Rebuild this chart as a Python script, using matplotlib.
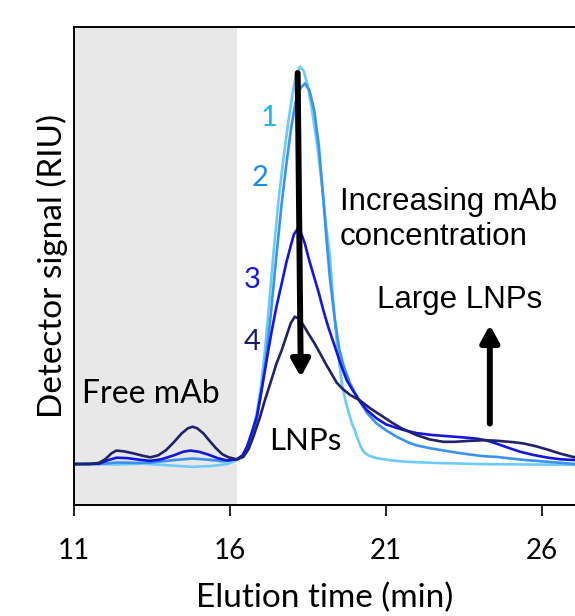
import numpy as np
import matplotlib
matplotlib.use("Agg")
import matplotlib.pyplot as plt

plt.rcParams['font.family'] = ['Lato', 'DejaVu Sans']

# elution time (min) / detector signal (normalised RIU)
t1 = [11.0, 11.8, 12.4, 13.2, 14.0, 14.8, 15.4, 15.9, 16.22, 16.4, 16.55, 16.7, 16.85, 17.0,
      17.12, 17.25, 17.39, 17.55, 17.7, 17.85, 18.0, 18.12, 18.24, 18.36, 18.5, 18.65, 18.8,
      18.95, 19.08, 19.2, 19.3, 19.42, 19.58, 19.7, 19.82, 19.92, 20.0, 20.1, 20.2, 20.3,
      20.45, 20.7, 21.1, 21.6, 22.5, 24.0, 25.5, 27.1]
v1 = [0.0, 0.0, -0.001, 0.001, -0.003, -0.007, -0.005, 0.0, 0.01, 0.02, 0.04, 0.075, 0.125, 0.2,
      0.287, 0.4, 0.526, 0.66, 0.76, 0.85, 0.93, 0.98, 1.0, 0.99, 0.95, 0.88, 0.8,
      0.7, 0.6, 0.526, 0.42, 0.31, 0.205, 0.16, 0.125, 0.1, 0.085, 0.062, 0.042, 0.03,
      0.021, 0.015, 0.01, 0.006, 0.003, 0.0, -0.001, -0.002]

t2 = [11.0, 11.8, 12.4, 13.0, 13.5, 14.2, 14.8, 15.3, 15.8, 16.22, 16.4, 16.55, 16.7, 16.85,
      17.0, 17.15, 17.3, 17.49, 17.65, 17.8, 17.95, 18.1, 18.25, 18.4, 18.55, 18.7, 18.85,
      19.0, 19.1, 19.2, 19.35, 19.5, 19.65, 19.85, 20.0, 20.17, 20.4, 20.7, 21.0, 21.34,
      21.7, 21.98, 22.41, 23.0, 23.6, 24.1, 24.55, 25.0, 25.5, 26.3, 27.1]
v2 = [0.0, 0.0, 0.004, 0.003, 0.004, 0.01, 0.014, 0.011, 0.007, 0.012, 0.02, 0.038, 0.068, 0.11,
      0.18, 0.265, 0.37, 0.526, 0.65, 0.75, 0.84, 0.91, 0.945, 0.958, 0.94, 0.89, 0.8,
      0.66, 0.56, 0.47, 0.37, 0.29, 0.245, 0.203, 0.18, 0.157, 0.128, 0.102, 0.085, 0.069,
      0.055, 0.047, 0.04, 0.032, 0.025, 0.02, 0.018, 0.014, 0.01, 0.005, 0.0]

t3 = [11.0, 11.8, 12.1, 12.36, 12.7, 13.1, 13.45, 13.8, 14.2, 14.5, 14.73, 15.0, 15.3, 15.6,
      15.9, 16.22, 16.4, 16.55, 16.7, 16.86, 17.0, 17.12, 17.23, 17.35, 17.5, 17.66, 17.8,
      17.95, 18.05, 18.16, 18.27, 18.4, 18.55, 18.7, 18.85, 19.0, 19.15, 19.3, 19.45, 19.6,
      19.75, 19.9, 20.17, 20.4, 20.7, 21.0, 21.3, 21.6, 21.98, 22.5, 23.0, 23.5, 23.9, 24.2,
      24.45, 24.7, 25.0, 25.3, 25.72, 26.2, 26.6, 27.1]
v3 = [0.0, 0.001, 0.01, 0.016, 0.015, 0.011, 0.008, 0.012, 0.022, 0.031, 0.034, 0.031, 0.024, 0.015,
      0.009, 0.012, 0.022, 0.045, 0.08, 0.119, 0.18, 0.235, 0.287, 0.34, 0.4, 0.455, 0.505,
      0.55, 0.578, 0.591, 0.583, 0.555, 0.51, 0.47, 0.43, 0.385, 0.345, 0.31, 0.275, 0.24,
      0.21, 0.19, 0.157, 0.135, 0.115, 0.1, 0.092, 0.085, 0.078, 0.073, 0.07, 0.067, 0.064, 0.06,
      0.054, 0.047, 0.039, 0.031, 0.023, 0.016, 0.012, 0.01]

t4 = [11.0, 11.5, 11.8, 12.0, 12.2, 12.36, 12.6, 12.9, 13.2, 13.45, 13.7, 13.95, 14.2, 14.45,
      14.65, 14.8, 14.95, 15.15, 15.35, 15.55, 15.75, 15.95, 16.22, 16.43, 16.6, 16.75, 16.95,
      17.12, 17.3, 17.5, 17.66, 17.8, 17.95, 18.08, 18.2, 18.35, 18.5, 18.7, 18.88, 19.05,
      19.25, 19.42, 19.6, 19.85, 20.17, 20.5, 20.91, 21.2, 21.5, 21.98, 22.4, 22.84, 23.2,
      23.6, 24.12, 24.5, 24.8, 25.1, 25.4, 25.8, 26.2, 26.6, 27.1]
v4 = [0.0, 0.0, 0.003, 0.012, 0.027, 0.034, 0.032, 0.027, 0.021, 0.017, 0.022, 0.035, 0.055, 0.077,
      0.09, 0.094, 0.09, 0.077, 0.058, 0.04, 0.025, 0.017, 0.012, 0.018, 0.038, 0.069, 0.115,
      0.161, 0.205, 0.255, 0.287, 0.32, 0.355, 0.371, 0.366, 0.35, 0.33, 0.305, 0.28, 0.255,
      0.228, 0.205, 0.19, 0.174, 0.16, 0.14, 0.119, 0.104, 0.09, 0.073, 0.062, 0.056, 0.056,
      0.058, 0.06, 0.059, 0.057, 0.055, 0.052, 0.045, 0.036, 0.026, 0.016]

colors = ['#6CCBF7', '#3A92EC', '#1515E0', '#222266']
label_colors = ['#1CB5F0', '#1E8BEF', '#1515E0', '#1B1B6E']
run_labels = ['1', '2', '3', '4']
label_pos = [(17.26, 0.872), (16.98, 0.719), (16.71, 0.463), (16.71, 0.308)]

fig = plt.figure(figsize=(5.75, 6.16), dpi=100)
ax = fig.add_axes([0.1287, 0.1802, 0.8713, 0.776])

ax.axvspan(11, 16.21, color='#E8E8E8', lw=0, zorder=0)
for t, v, c in zip([t1, t2, t3, t4], [v1, v2, v3, v4], colors):
    ax.plot(t, v, color=c, lw=1.9, zorder=2)

for lab, (x, y), c in zip(run_labels, label_pos, label_colors):
    ax.text(x, y, lab, color=c, fontsize=21, ha='center', va='center')

ax.text(13.47, 0.176, 'Free mAb', fontsize=23, ha='center', va='center')
ax.text(18.4, 0.058, 'LNPs', fontsize=22.5, ha='center', va='center')
ax.text(19.53, 0.615, 'Increasing mAb\nconcentration', fontsize=22.5, ha='left', va='center',
        family=['Liberation Sans'], linespacing=1.2)
ax.text(23.37, 0.413, 'Large LNPs', fontsize=22.5, ha='center', va='center', family=['Liberation Sans'])

arrow = dict(arrowstyle='-|>,head_width=0.55,head_length=1.0', lw=4.3, color='black',
             shrinkA=0, shrinkB=0, mutation_scale=10)
ax.annotate('', xy=(18.27, 0.219), xytext=(18.17, 0.984), arrowprops=arrow, zorder=3)
ax.annotate('', xy=(24.33, 0.35), xytext=(24.33, 0.102), arrowprops=arrow, zorder=3)

ax.set_xlim(11, 27.06)
ax.set_ylim(-0.103, 1.10)
ax.set_xticks([11, 16, 21, 26])
ax.set_yticks([])
ax.tick_params(axis='x', direction='out', length=8, width=1.2, labelsize=20, pad=16)
ax.set_xlabel('Elution time (min)', fontsize=24, labelpad=13)
ax.set_ylabel('Detector signal (RIU)', fontsize=24, labelpad=4)
ax.spines['right'].set_visible(False)
for s in ['left', 'bottom', 'top']:
    ax.spines[s].set_linewidth(1.4)

plt.savefig('out.png', dpi=100)
